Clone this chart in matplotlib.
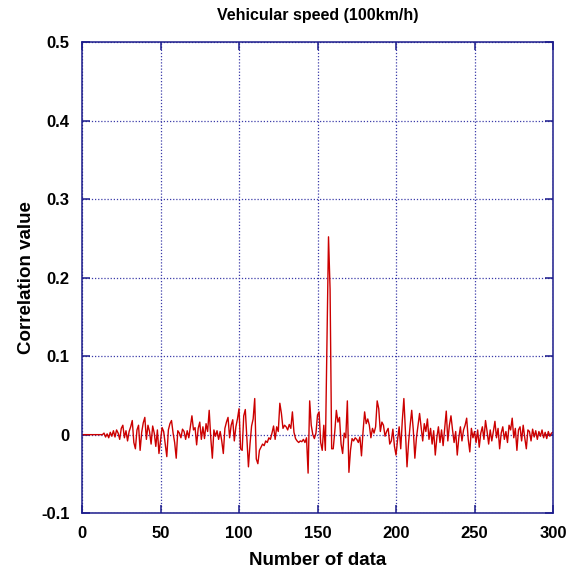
import numpy as np
import matplotlib
matplotlib.use("Agg")
import matplotlib.pyplot as plt

##############################
## Data ######################
##############################

# correlation values (index = number of data)
lead = [0.0] * 14
corr_a = [0.002, -0.003, 0.001, -0.004, 0.003, -0.002,
          0.005, -0.003, 0.006, 0.002, -0.006, 0.008, 0.012, -0.004, 0.005, -0.008,
          0.004, 0.010, 0.018, -0.010, -0.018, 0.006, 0.012, -0.020, 0.003, 0.015,
          0.022, -0.006, 0.012, 0.004, -0.012, 0.011, 0.002, -0.015, 0.006, -0.024,
          -0.008, 0.009, 0.004, -0.012, -0.028, 0.006, 0.014, 0.018, 0.002, -0.010,
          -0.030, 0.005, 0.002, -0.004, 0.007, 0.004, -0.006, 0.005, -0.004, 0.010,
          0.024, 0.006, 0.009, -0.013, 0.008, 0.016, -0.006, 0.010, -0.005, 0.014,
          0.004, 0.031, -0.004, -0.030, 0.006, -0.002, 0.005, -0.006, 0.004, -0.008,
          -0.024, 0.008, 0.016, 0.022, -0.004, 0.012, 0.019, -0.008, 0.010, 0.020]
corr_b = [0.033, -0.018, -0.020, 0.024, 0.032, -0.005, -0.041, -0.012, 0.011, 0.020,
          0.046, -0.031, -0.037, -0.020, -0.016, -0.012, -0.014, -0.008, -0.010, -0.004,
          -0.006, 0.002, 0.011, -0.006, 0.010, 0.004, 0.040, 0.027, 0.008, 0.012,
          0.010, 0.006, 0.013, 0.008, 0.029, 0.003, -0.005, -0.008, -0.010, -0.008,
          -0.009, -0.006, -0.010, -0.004, -0.049, 0.043, 0.012, 0.000, -0.005, 0.002,
          0.025, 0.029, -0.010, -0.020, 0.012, -0.020, 0.118, 0.252, 0.185, -0.018,
          -0.018, 0.004, 0.031, 0.016, 0.022, -0.012, -0.024, 0.002, -0.004, 0.043,
          -0.048, -0.020, -0.005, -0.008, -0.004, -0.006, -0.010, -0.003, -0.027, 0.004,
          0.029, 0.014, 0.020, 0.012, -0.004, 0.008, 0.002, 0.010, 0.043, 0.033,
          0.004, 0.016, 0.012, -0.002, 0.004, 0.008, -0.012, -0.008, 0.007, -0.015]
corr_c = [-0.026, -0.006, 0.010, -0.018, 0.018, 0.046, 0.004, -0.041, -0.010, 0.012,
          0.031, 0.006, -0.030, -0.004, 0.012, 0.027, 0.010, -0.008, 0.014, 0.004,
          0.020, -0.006, 0.008, -0.012, 0.005, -0.026, -0.004, 0.010, -0.010, 0.006,
          -0.014, 0.008, 0.030, -0.008, 0.012, 0.024, 0.006, -0.010, 0.004, -0.026,
          -0.004, 0.010, -0.008, 0.006, 0.012, 0.021, -0.006, -0.022, 0.008, -0.004,
          0.004, -0.010, 0.006, -0.016, 0.002, 0.010, -0.006, 0.018, 0.004, -0.012,
          0.006, -0.008, 0.004, 0.017, -0.004, 0.008, -0.018, 0.002, 0.010, -0.006,
          0.004, -0.010, 0.012, 0.006, 0.021, -0.004, 0.008, -0.020, 0.006, 0.010,
          -0.008, 0.012, -0.004, -0.018, 0.006, 0.004, -0.008, 0.007, -0.003, 0.005,
          -0.006, 0.004, -0.002, 0.006, -0.004, 0.003, -0.005, 0.004, -0.002, 0.002,
          0.003]

corr = np.array(lead + corr_a + corr_b + corr_c)
n = np.arange(len(corr))

x_ticks = [0, 50, 100, 150, 200, 250, 300]
y_ticks = [-0.1, 0, 0.1, 0.2, 0.3, 0.4, 0.5]
y_labels = ['-0.1', '0', '0.1', '0.2', '0.3', '0.4', '0.5']

##############################
## Plotting ##################
##############################

plt.rcParams['font.family'] = ['Liberation Sans', 'DejaVu Sans']
plt.rcParams['font.weight'] = 'bold'

frame = '#1c1c8c'

fig = plt.figure(figsize=(5.76, 5.74), dpi=100)
ax = fig.add_axes([0.1424, 0.106, 0.8177, 0.8206])

ax.plot(n, corr, color='#cc0000', lw=1.0)

ax.set_xlim(0, 300)
ax.set_ylim(-0.1, 0.5)
ax.set_xticks(x_ticks)
ax.set_yticks(y_ticks)
ax.set_yticklabels(y_labels)
ax.grid(True, color='#3a3aa8', linestyle=(0, (1, 1.5)), lw=0.9)

for sp in ax.spines.values():
    sp.set_color(frame)
    sp.set_linewidth(1.1)

ax.tick_params(direction='in', length=6, width=1.1, color=frame,
               top=True, right=True, labelsize=12, pad=9)
for lab in ax.get_xticklabels() + ax.get_yticklabels():
    lab.set_fontweight('bold')

ax.set_title('Vehicular speed (100km/h)', fontsize=11.5, fontweight='bold', pad=16)
ax.set_xlabel('Number of data', fontsize=13.5, fontweight='bold', labelpad=8)
ax.set_ylabel('Correlation value', fontsize=13.5, fontweight='bold', labelpad=4)

fig.savefig('out.png', dpi=100)
